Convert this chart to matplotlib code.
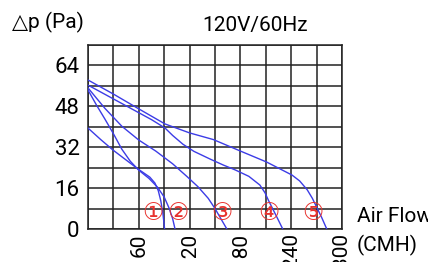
import matplotlib
matplotlib.use("Agg")
import matplotlib.pyplot as plt
import numpy as np

plt.rcParams['font.family'] = ['Roboto', 'DejaVu Sans']

# fan curves: air flow (CMH) vs pressure (Pa)
flow_1 = [0, 15, 29.5, 45, 59, 73, 79, 83, 86, 88.5, 90.5]
pres_1 = [39.5, 35.0, 30.9, 27.0, 23.5, 20.3, 18.0, 15.0, 11.0, 6.0, 0]

flow_2 = [0, 10, 20, 30, 40, 50, 60, 72, 82, 90, 96, 100, 102.8]
pres_2 = [54.4, 48.5, 43.0, 37.3, 31.2, 26.5, 23.0, 19.8, 16.4, 12.5, 8.0, 4.0, 0]

flow_3 = [0, 20, 40, 60, 80, 100, 117, 130, 142, 150, 157, 164]
pres_3 = [55.2, 47.2, 40.2, 34.8, 30.5, 25.5, 20.5, 16.5, 12.0, 8.0, 4.0, 0]

flow_4 = [0, 25, 50, 75, 91, 100, 112, 125, 144, 160, 174, 190, 203, 209, 213, 218, 223, 230]
pres_4 = [56.3, 51.8, 47.3, 42.8, 39.5, 36.6, 33.2, 30.4, 27.4, 25.0, 23.1, 20.6, 17.2, 14.2, 11.3, 8.0, 4.7, 0]

flow_5 = [0, 30, 60, 91, 120, 148, 180, 211, 241, 250, 259, 265, 270, 276, 282]
pres_5 = [58.3, 52.8, 47.0, 41.1, 37.6, 35.0, 30.5, 26.2, 21.1, 18.8, 15.3, 12.0, 8.6, 4.5, 0]

curve_labels = ['\u2460', '\u2461', '\u2462', '\u2463', '\u2464']
label_flow = [77, 106, 158, 214, 266]
label_pres = 6.3

x_ticks = [60, 120, 180, 240, 300]
y_ticks = [0, 16, 32, 48, 64]

fig = plt.figure(figsize=(4.28, 2.62), dpi=100)
ax = fig.add_axes([88/428, 1-229/262, 254/428, 184/262])

line_col = '#3c3ce6'
for fx, py in [(flow_1, pres_1), (flow_2, pres_2), (flow_3, pres_3), (flow_4, pres_4), (flow_5, pres_5)]:
    ax.plot(fx, py, color=line_col, lw=1.0, zorder=3)

for lab, fx in zip(curve_labels, label_flow):
    ax.text(fx, label_pres, lab, color='#e8322e', fontsize=17, ha='center', va='center',
            family=['DejaVu Sans'], zorder=4)

ax.set_xlim(0, 300)
ax.set_ylim(0, 72)
ax.set_xticks(np.arange(0, 301, 30), minor=True)
ax.set_yticks(np.arange(0, 73, 8), minor=True)
ax.set_xticks(x_ticks)
ax.set_yticks(y_ticks)
ax.set_xticklabels([str(v) for v in x_ticks], rotation=90, fontsize=15)
ax.set_yticklabels([str(v) for v in y_ticks], fontsize=16)
ax.grid(True, which='both', color='#222222', lw=1.1)
ax.tick_params(which='both', length=0)
ax.tick_params(axis='x', pad=3)
ax.tick_params(axis='y', pad=6)
for s in ax.spines.values():
    s.set_color('#222222')
    s.set_linewidth(1.1)

fig.text(12/428, 1-22/262, '\u25b3p (Pa)', fontsize=15, va='center', ha='left',
         family=['Roboto', 'DejaVu Sans'])
fig.text(255/428, 1-25/262, '120V/60Hz', fontsize=15, va='center', ha='center')
fig.text(357/428, 1-217/262, 'Air Flow', fontsize=15, va='center', ha='left')
fig.text(357/428, 1-245/262, '(CMH)', fontsize=15, va='center', ha='left')

fig.savefig('out.png', dpi=100)
